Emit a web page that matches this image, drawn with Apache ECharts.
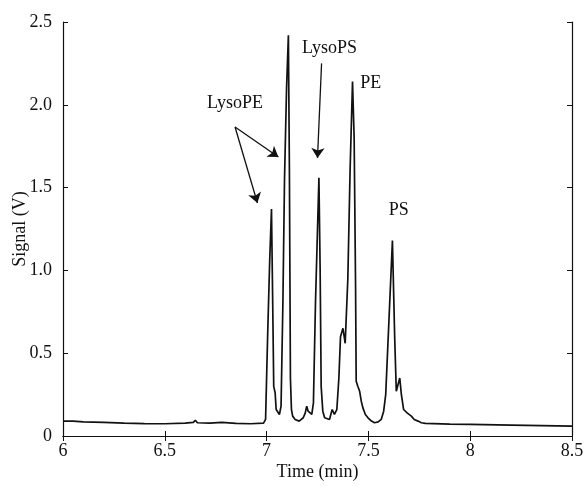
<!DOCTYPE html>
<html>
<head>
<meta charset="utf-8">
<script src="https://cdn.jsdelivr.net/npm/echarts@6/dist/echarts.min.js"></script>
<style>
  html, body { margin: 0; padding: 0; background: #fff; }
  #main { width: 587px; height: 486px; }
</style>
</head>
<body>
<div id="main"></div>
<script>
// time (min) and detector signal (V)
var times = [
  6.00, 6.05, 6.10, 6.20, 6.30, 6.40, 6.50, 6.60, 6.64, 6.65, 6.66, 6.72, 6.78, 6.85, 6.92,
  6.985, 6.995, 7.005, 7.015, 7.024, 7.030, 7.035, 7.042, 7.047, 7.055, 7.063, 7.071,
  7.080, 7.088, 7.098, 7.107, 7.112, 7.117, 7.122, 7.128, 7.140, 7.160, 7.180, 7.190, 7.197,
  7.204, 7.211, 7.222, 7.230, 7.240, 7.257, 7.263, 7.268, 7.276, 7.285, 7.293, 7.309, 7.322, 7.333,
  7.345, 7.355, 7.363, 7.375, 7.386, 7.399, 7.410, 7.422, 7.430, 7.437, 7.440, 7.448, 7.457,
  7.465, 7.473, 7.485, 7.498, 7.515, 7.530, 7.548, 7.563, 7.575, 7.585, 7.601, 7.618, 7.629,
  7.637, 7.654, 7.662, 7.673, 7.690, 7.711, 7.725, 7.744, 7.760, 7.780, 7.900, 8.000, 8.200, 8.500
];
var signal = [
  0.090, 0.090, 0.085, 0.082, 0.078, 0.075, 0.074, 0.078, 0.082, 0.095, 0.080, 0.078, 0.082, 0.076, 0.074,
  0.078, 0.10, 0.60, 1.05, 1.37, 0.80, 0.30, 0.26, 0.16, 0.17, 0.13, 0.18,
  0.80, 1.55, 2.10, 2.42, 1.60, 0.35, 0.16, 0.12, 0.10, 0.09, 0.11, 0.14, 0.18,
  0.15, 0.14, 0.13, 0.20, 0.80, 1.56, 1.00, 0.30, 0.15, 0.11, 0.10, 0.10, 0.16, 0.13,
  0.16, 0.35, 0.60, 0.65, 0.56, 0.95, 1.60, 2.14, 1.80, 0.90, 0.33, 0.30, 0.27,
  0.21, 0.17, 0.13, 0.11, 0.09, 0.08, 0.085, 0.10, 0.15, 0.25, 0.70, 1.18, 0.60,
  0.27, 0.35, 0.25, 0.16, 0.14, 0.12, 0.10, 0.09, 0.08, 0.076, 0.072, 0.070, 0.066, 0.060
];

// peak labels: [text, time, signal]
var peakLabels = [
  ['LysoPE', 6.845, 2.01],
  ['LysoPS', 7.309, 2.34],
  ['PE', 7.511, 2.13],
  ['PS', 7.649, 1.365]
];
// arrows: [fromTime, fromSignal, toTime, toSignal]
var arrows = [
  [6.845, 1.866, 7.058, 1.685],
  [6.845, 1.866, 6.955, 1.407],
  [7.270, 2.250, 7.250, 1.679]
];

var font = 'Liberation Serif';
var ink = '#111';

var myChart = echarts.init(document.getElementById('main'));

var lineData = times.map(function (t, i) { return [t, signal[i]]; });

var boxAxis = {
  interval: 0.5,
  axisLine: { show: true, lineStyle: { color: ink, width: 1.2 } },
  axisTick: { show: true, inside: true, length: 5, lineStyle: { color: ink, width: 1 } },
  axisLabel: { show: false },
  splitLine: { show: false }
};

var option = {
  backgroundColor: '#fff',
  animation: false,
  grid: { left: 63, right: 15, top: 22, bottom: 50, outerBoundsMode: 'none', containLabel: false },
  xAxis: [
    {
      type: 'value',
      min: 6, max: 8.5, interval: 0.5,
      name: 'Time (min)',
      nameLocation: 'middle',
      nameGap: 27,
      nameMoveOverlap: false,
      nameTextStyle: { fontFamily: font, fontSize: 18, color: ink },
      axisLine: { show: true, onZero: false, lineStyle: { color: ink, width: 1.2 } },
      axisTick: { show: true, inside: true, length: 5, lineStyle: { color: ink, width: 1 } },
      axisLabel: { fontFamily: font, fontSize: 18, color: ink, margin: 6 },
      splitLine: { show: false }
    },
    Object.assign({}, boxAxis, { type: 'value', position: 'top', min: 6, max: 8.5 })
  ],
  yAxis: [
    {
      type: 'value',
      min: 0, max: 2.5, interval: 0.5,
      name: 'Signal (V)',
      nameLocation: 'middle',
      nameGap: 34,
      nameRotate: 90,
      nameMoveOverlap: false,
      nameTextStyle: { fontFamily: font, fontSize: 18, color: ink },
      axisLine: { show: true, onZero: false, lineStyle: { color: ink, width: 1.2 } },
      axisTick: { show: true, inside: true, length: 5, lineStyle: { color: ink, width: 1 } },
      axisLabel: {
        fontFamily: font, fontSize: 18, color: ink, margin: 11,
        formatter: function (v) { return v === 0 ? '0' : v.toFixed(1); }
      },
      splitLine: { show: false }
    },
    Object.assign({}, boxAxis, { type: 'value', position: 'right', min: 0, max: 2.5 })
  ],
  series: [{
    type: 'line',
    data: lineData,
    showSymbol: false,
    symbol: 'none',
    lineStyle: { color: ink, width: 1.7 },
    markLine: {
      silent: true,
      symbol: ['none', 'arrow'],
      symbolSize: 10,
      label: { show: false },
      emphasis: { disabled: true },
      lineStyle: { color: ink, width: 1.3, type: 'solid' },
      data: arrows.map(function (a) {
        return [{ coord: [a[0], a[1]] }, { coord: [a[2], a[3]] }];
      })
    },
    markPoint: {
      silent: true,
      symbol: 'circle',
      symbolSize: 0,
      label: {
        show: true,
        position: 'inside',
        fontFamily: font, fontSize: 18, color: ink,
        formatter: function (p) { return p.name; }
      },
      data: peakLabels.map(function (l) {
        return { name: l[0], coord: [l[1], l[2]] };
      })
    }
  }]
};

myChart.setOption(option);
</script>
</body>
</html>
